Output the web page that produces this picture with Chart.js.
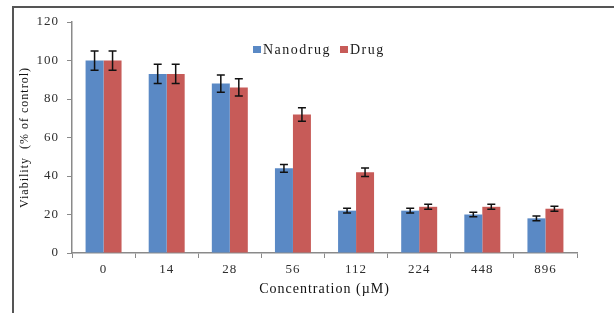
<!DOCTYPE html>
<html>
<head>
<meta charset="utf-8">
<script src="https://cdn.jsdelivr.net/npm/chart.js@4.4.1/dist/chart.umd.min.js"></script>
<style>
  html, body { margin: 0; padding: 0; background: #fff; overflow: hidden; }
  #wrap { position: relative; width: 614px; height: 313px; }
  #frame {
    position: absolute; left: 12px; top: 6px; width: 700px; height: 400px;
    border-left: 2px solid #555; border-top: 2px solid #555;
  }
  #legend {
    position: absolute; left: 253px; top: 42px;
    font: 14px 'Liberation Serif', serif; letter-spacing: 1.5px; color: #1a1a1a;
    white-space: nowrap;
  }
  #legend span.item { margin-right: 9px; }
  #legend i {
    display: inline-block; width: 8px; height: 7px; margin-right: 2px; vertical-align: 1px;
  }
</style>
</head>
<body>
<div id="wrap">
  <div id="frame"></div>
  <canvas id="grafico" width="614" height="313"></canvas>
  <div id="legend"></div>
</div>
<script>
// ── Dados ──
const concentracoes = ['0', '14', '28', '56', '112', '224', '448', '896'];
const nanodrug      = [100, 93, 88, 44, 22, 22, 20, 18];
const nanodrugErro  = [5, 5, 4.5, 2, 1.2, 1.2, 1.2, 1.2];
const drug          = [100, 93, 86, 72, 42, 24, 24, 23];
const drugErro      = [5, 5, 4.5, 3.5, 2.2, 1.3, 1.3, 1.3];
const ticksY        = [0, 20, 40, 60, 80, 100, 120];

const AZUL     = '#5A89C5';
const VERMELHO = '#C75B58';
const EIXO     = '#8a8a8a';
const TEXTO    = '#2e2e2e';
const FONTE    = "'Liberation Serif', 'Times New Roman', serif";

// barras de erro desenhadas pelas escalas do próprio gráfico
const barrasErro = {
    id: 'barrasErro',
    afterDatasetsDraw(chart) {
        const { ctx, scales: { y } } = chart;
        ctx.save();
        ctx.strokeStyle = '#111';
        ctx.lineWidth = 1.5;
        chart.data.datasets.forEach((ds, i) => {
            const meta = chart.getDatasetMeta(i);
            meta.data.forEach((bar, j) => {
                const v = ds.data[j], e = ds.erro[j];
                const x = bar.x;
                const y1 = y.getPixelForValue(v + e);
                const y2 = y.getPixelForValue(v - e);
                ctx.beginPath();
                ctx.moveTo(x, y1); ctx.lineTo(x, y2);
                ctx.moveTo(x - 4, y1); ctx.lineTo(x + 4, y1);
                ctx.moveTo(x - 4, y2); ctx.lineTo(x + 4, y2);
                ctx.stroke();
            });
        });
        ctx.restore();
    }
};

// espaçamento entre letras como no original
const espacamento = {
    id: 'espacamento',
    beforeLayout(chart) { chart.ctx.letterSpacing = '1px'; },
    beforeDraw(chart) { chart.ctx.letterSpacing = '1px'; }
};

const grafico = new Chart(document.getElementById('grafico'), {
    type: 'bar',
    data: {
        labels: concentracoes,
        datasets: [
            { label: 'Nanodrug', data: nanodrug, erro: nanodrugErro, backgroundColor: AZUL },
            { label: 'Drug', data: drug, erro: drugErro, backgroundColor: VERMELHO }
        ]
    },
    options: {
        responsive: false,
        animation: false,
        datasets: { bar: { categoryPercentage: 0.57, barPercentage: 1 } },
        layout: { padding: { left: 0, right: 37, top: 22, bottom: 0 } },
        plugins: { legend: { display: false }, tooltip: { enabled: false } },
        scales: {
            x: {
                grid: { display: true, drawOnChartArea: false, offset: true, tickLength: 5, color: EIXO },
                border: { color: EIXO, width: 1.5 },
                ticks: { color: TEXTO, padding: 4, font: { family: FONTE, size: 13 } },
                title: {
                    display: true, text: 'Concentration (\u00b5M)', color: '#111',
                    font: { family: FONTE, size: 14 }, padding: { top: 0, bottom: 15 }
                },
                afterFit(s) { s.height = 60; }
            },
            y: {
                min: 0, max: 120,
                afterBuildTicks(s) { s.ticks = ticksY.map(v => ({ value: v })); },
                grid: { display: true, drawOnChartArea: false, tickLength: 5, color: EIXO },
                border: { color: EIXO, width: 1.5 },
                ticks: { color: TEXTO, padding: 8, font: { family: FONTE, size: 13 } },
                title: {
                    display: true, text: 'Viability  (% of control)', color: '#111',
                    font: { family: FONTE, size: 12 }, padding: { top: 18, bottom: 0 }
                },
                afterFit(s) { s.width = 72; }
            }
        }
    },
    plugins: [barrasErro, espacamento]
});

// legenda em HTML, posicionada dentro da área do gráfico
document.getElementById('legend').innerHTML = grafico.data.datasets
    .map(d => '<span class="item"><i style="background:' + d.backgroundColor + '"></i>' + d.label + '</span>')
    .join('');
</script>
</body>
</html>
